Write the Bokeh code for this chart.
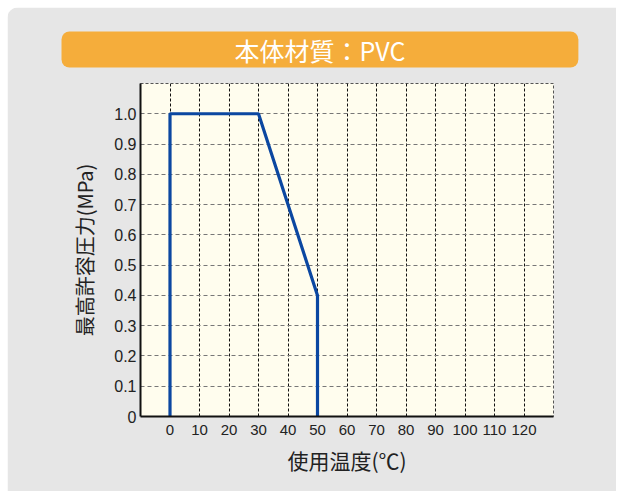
from bokeh.plotting import figure
from bokeh.models import Range1d, FixedTicker
from bokeh.embed import file_html
from bokeh.resources import INLINE

# data
temps = [0, 0, 30, 50, 50]
pressures = [0, 1.0, 1.0, 0.4, 0]
x_ticks = [0, 10, 20, 30, 40, 50, 60, 70, 80, 90, 100, 110, 120]
x_tick_labels = ["0", "10", "20", "30", "40", "50", "60", "70", "80", "90", "100", "110", "120"]
y_ticks = [0, 0.1, 0.2, 0.3, 0.4, 0.5, 0.6, 0.7, 0.8, 0.9, 1.0]
y_tick_labels = ["0", "0.1", "0.2", "0.3", "0.4", "0.5", "0.6", "0.7", "0.8", "0.9", "1.0"]
x_grid = [0, 10, 20, 30, 40, 50, 60, 70, 80, 90, 100, 110, 120, 130]
y_grid = [0.1, 0.2, 0.3, 0.4, 0.5, 0.6, 0.7, 0.8, 0.9, 1.0, 1.1]
title_text = "本体材質：PVC"
x_label = "使用温度(℃)"
y_label = "最高許容圧力(MPa)"

W, H = 609, 484
p = figure(width=W, height=H, output_backend="svg", toolbar_location=None,
           x_range=Range1d(-10, 130), y_range=Range1d(0, 1.1),
           min_border_left=133, min_border_right=63, min_border_top=76, min_border_bottom=75,
           background_fill_color="#fffdee", border_fill_color="#e6e6e6",
           outline_line_color="#555555", outline_line_dash="3 2", outline_line_width=1)
p.styles = {"border-top-left-radius": "12px", "overflow": "hidden",
            "margin-left": "7px", "margin-top": "7px"}

tick_font = "'Liberation Sans', sans-serif"
cjk_font = "'Noto Sans CJK JP', sans-serif"

for ax in (p.xaxis[0], p.yaxis[0]):
    ax.axis_line_color = "#111111"
    ax.axis_line_width = 2
    ax.major_tick_line_color = None
    ax.minor_tick_line_color = None
    ax.major_tick_out = 0
    ax.major_tick_in = 0
    ax.major_label_text_font = tick_font
    ax.major_label_text_color = "#222222"
    ax.axis_label_text_font = cjk_font
    ax.axis_label_text_font_style = "normal"
    ax.axis_label_text_color = "#222222"

p.xaxis.major_label_text_font_size = "15px"
p.yaxis.major_label_text_font_size = "16px"
p.xaxis.axis_label_text_font_size = "21px"
p.yaxis.axis_label_text_font_size = "20px"
p.xaxis.ticker = FixedTicker(ticks=x_ticks)
p.xaxis.major_label_overrides = {t: l for t, l in zip(x_ticks, x_tick_labels)}
p.yaxis.ticker = FixedTicker(ticks=y_ticks)
p.yaxis.major_label_overrides = {t: l for t, l in zip(y_ticks, y_tick_labels)}
p.xaxis.axis_label = x_label
p.yaxis.axis_label = y_label
p.xaxis.major_label_standoff = 8
p.yaxis.major_label_standoff = 4
p.xaxis.axis_label_standoff = 7
p.yaxis.axis_label_standoff = 12

p.xgrid.ticker = FixedTicker(ticks=x_grid)
p.ygrid.ticker = FixedTicker(ticks=y_grid)
p.xgrid.grid_line_color = "#111111"
p.xgrid.grid_line_dash = "3 2"
p.xgrid.grid_line_width = 1
p.ygrid.grid_line_color = "#777777"
p.ygrid.grid_line_dash = "4 3"
p.ygrid.grid_line_width = 1

p.line(temps, pressures, line_color="#0b47a1", line_width=3.2)

# title bar (padding order: left, right, top, bottom)
p.title.text = title_text
p.title.align = "left"
p.title.offset = -79
p.title.text_color = "white"
p.title.text_font = cjk_font
p.title.text_font_size = "25px"
p.title.text_font_style = "normal"
p.title.background_fill_color = "#f5ad3b"
p.title.background_fill_alpha = 1.0
p.title.border_line_color = None
p.title.padding = (173, 173, 0, 0)
p.title.border_radius = 8
p.title.standoff = 32

open("out.html", "w").write(file_html(p, INLINE))
